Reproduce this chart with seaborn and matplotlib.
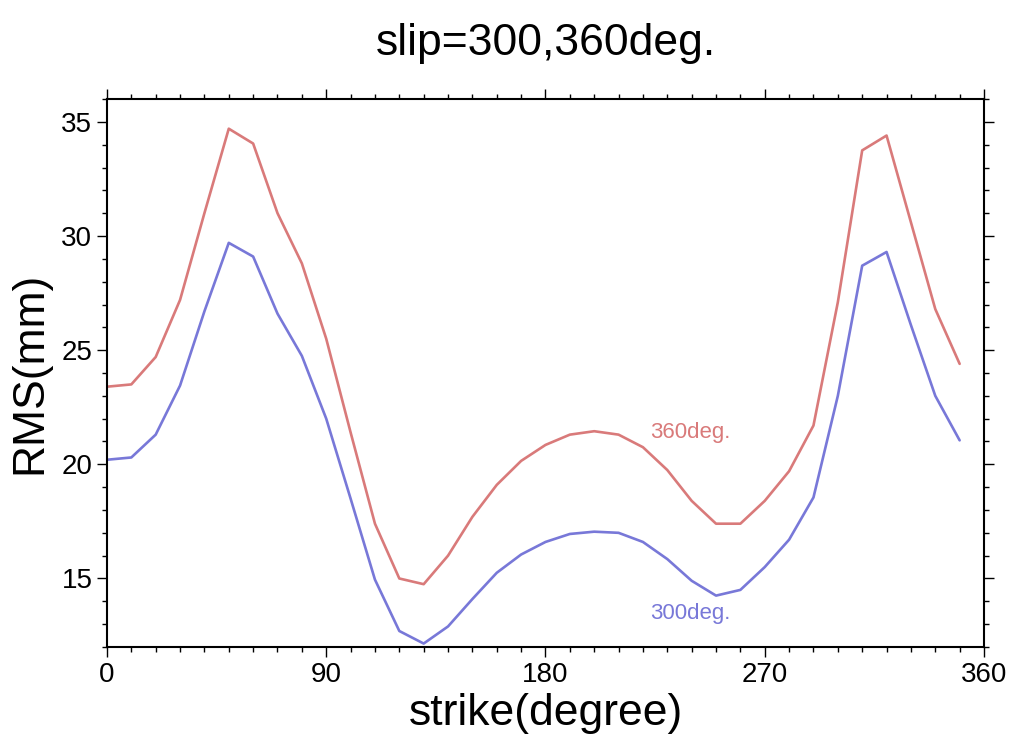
import numpy as np
import pandas as pd
import matplotlib
matplotlib.use("Agg")
import matplotlib.pyplot as plt
from matplotlib.ticker import MultipleLocator
import seaborn as sns

strike = list(range(0, 360, 10))
rms_360 = [23.4, 23.5, 24.7, 27.2, 31.0, 34.7, 34.05, 31.0, 28.8, 25.5,
           21.4, 17.4, 15.0, 14.75, 16.0, 17.7, 19.1, 20.15, 20.85, 21.3,
           21.45, 21.3, 20.75, 19.75, 18.4, 17.4, 17.4, 18.4, 19.7, 21.7,
           27.1, 33.75, 34.4, 30.6, 26.8, 24.4]
rms_300 = [20.2, 20.3, 21.3, 23.45, 26.7, 29.7, 29.1, 26.6, 24.75, 22.0,
           18.5, 14.95, 12.7, 12.15, 12.9, 14.1, 15.25, 16.05, 16.6, 16.95,
           17.05, 17.0, 16.6, 15.85, 14.9, 14.25, 14.5, 15.5, 16.7, 18.55,
           23.0, 28.7, 29.3, 26.1, 23.0, 21.05]

red = "#d97a7a"
blue = "#7878d8"

sns.set_style("ticks")
plt.rcParams['font.family'] = ['Liberation Sans', 'DejaVu Sans']
plt.rcParams['text.color'] = 'black'
plt.rcParams['axes.labelcolor'] = 'black'
plt.rcParams['xtick.color'] = 'black'
plt.rcParams['ytick.color'] = 'black'
plt.rcParams['axes.edgecolor'] = 'black'

df = pd.DataFrame({"strike": strike * 2,
                   "rms": rms_360 + rms_300,
                   "slip": ["360deg."] * len(strike) + ["300deg."] * len(strike)})

fig = plt.figure(figsize=(10.11, 7.4), dpi=100)
ax = fig.add_axes([0.1058, 0.1257, 0.8675, 0.7405])

sns.lineplot(data=df, x="strike", y="rms", hue="slip",
             palette={"360deg.": red, "300deg.": blue},
             linewidth=1.9, legend=False, ax=ax)

ax.text(223, 21.4, "360deg.", color=red, fontsize=16, va="center")
ax.text(223, 13.45, "300deg.", color=blue, fontsize=16, va="center")

ax.set_xlim(0, 360)
ax.set_ylim(12, 36)
ax.xaxis.set_major_locator(MultipleLocator(90))
ax.xaxis.set_minor_locator(MultipleLocator(10))
ax.yaxis.set_major_locator(MultipleLocator(5))
ax.yaxis.set_minor_locator(MultipleLocator(1))
ax.tick_params(which="both", direction="out", top=True, right=True,
               width=1.0, color="black", labelsize=20)
ax.tick_params(which="major", length=7)
ax.tick_params(which="minor", length=3.5)
for s in ax.spines.values():
    s.set_linewidth(1.5)

ax.set_title("slip=300,360deg.", fontsize=32, pad=32)
ax.set_xlabel("strike(degree)", fontsize=32, labelpad=4)
ax.set_ylabel("RMS(mm)", fontsize=32, labelpad=8)

fig.savefig("out.png", dpi=100)
